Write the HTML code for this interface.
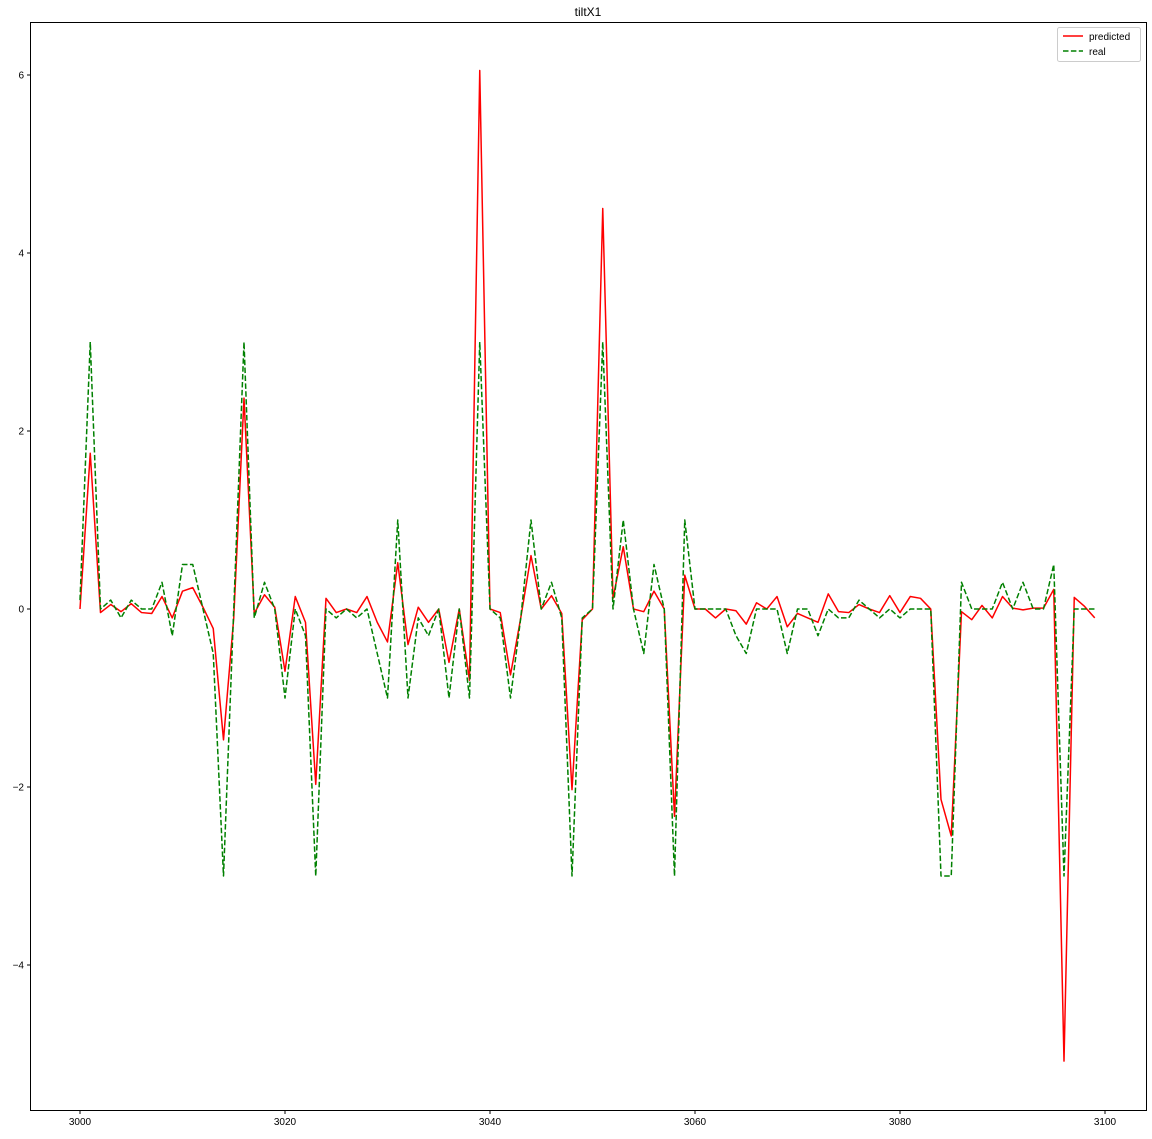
<!DOCTYPE html>
<html><head><meta charset="utf-8"><style>
html,body{margin:0;padding:0;background:#fff;}
svg text{font-family:"Liberation Sans","DejaVu Sans",sans-serif;font-size:10px;fill:#000;}
</style></head><body>
<svg id="chart" width="1152" height="1134" xmlns="http://www.w3.org/2000/svg">
<text x="588" y="16" text-anchor="middle" style="font-size:12px">tiltX1</text>
<rect x="30.5" y="22.5" width="1116" height="1088" fill="none" stroke="#000" stroke-width="1"/>
<g id="ticks"></g>
<g id="series"></g>
<g>
<rect x="1057.5" y="27.5" width="83" height="34" rx="2" fill="#fff" stroke="#ccc"/>
<line x1="1063" y1="36" x2="1083" y2="36" stroke="red" stroke-width="1.5"/>
<text x="1089" y="40">predicted</text>
<line x1="1063" y1="51" x2="1083" y2="51" stroke="green" stroke-width="1.5" stroke-dasharray="5.5,2.4"/>
<text x="1089" y="55">real</text>
</g>
</svg>
<script>
const xStart = 3000;
const predicted = [0,1.75,-0.04,0.05,-0.03,0.06,-0.04,-0.05,0.14,-0.1,0.2,0.24,0.02,-0.22,-1.47,-0.1,2.37,-0.05,0.16,0.02,-0.7,0.14,-0.15,-1.97,0.12,-0.04,0,-0.04,0.14,-0.15,-0.37,0.52,-0.4,0.02,-0.15,0,-0.6,0,-0.8,6.05,0,-0.04,-0.74,-0.1,0.6,0,0.15,-0.05,-2.03,-0.12,0,4.5,0.12,0.7,0,-0.03,0.2,0,-2.33,0.38,0,0,-0.1,0,-0.02,-0.17,0.07,0,0.14,-0.2,-0.05,-0.1,-0.15,0.17,-0.03,-0.04,0.05,0,-0.04,0.15,-0.04,0.14,0.12,0,-2.14,-2.55,-0.03,-0.12,0.04,-0.1,0.14,0.01,-0.01,0.01,0.01,0.22,-5.08,0.13,0.03,-0.1];
const real = [0.1,3,0,0.1,-0.1,0.1,0,0,0.3,-0.3,0.5,0.5,0,-0.5,-3,0,3,-0.1,0.3,0,-1,0,-0.3,-3,0,-0.1,0,-0.1,0,-0.5,-1,1,-1,-0.1,-0.3,0,-1,0,-1,3,0,-0.1,-1,-0.1,1,0,0.3,-0.1,-3,-0.1,0,3,0,1,0,-0.5,0.5,0,-3,1,0,0,0,0,-0.3,-0.5,0,0,0,-0.5,0,0,-0.3,0,-0.1,-0.1,0.1,0,-0.1,0,-0.1,0,0,0,-3,-3,0.3,0,0,0,0.3,0,0.3,0,0,0.5,-3,0,0,0];
const xTicks = [3000,3020,3040,3060,3080,3100];
const yTicks = [-4,-2,0,2,4,6];
const yTickLabels = ["\u22124","\u22122","0","2","4","6"];

const xScale = v => 80 + (v - 3000) * 10.25;
const yScale = v => 609 - v * 89;
const NS = "http://www.w3.org/2000/svg";
const ticks = document.getElementById('ticks');
const series = document.getElementById('series');

xTicks.forEach(t => {
  const x = xScale(t);
  const l = document.createElementNS(NS,'line');
  l.setAttribute('x1',x);l.setAttribute('x2',x);l.setAttribute('y1',1110.5);l.setAttribute('y2',1114);
  l.setAttribute('stroke','#000');
  
  
  ticks.appendChild(l);
  const tx = document.createElementNS(NS,'text');
  tx.setAttribute('x',x);tx.setAttribute('y',1125);tx.setAttribute('text-anchor','middle');
  tx.textContent = t;
  
  
  ticks.appendChild(tx);
});
yTicks.forEach((t,i) => {
  const y = yScale(t);
  const l = document.createElementNS(NS,'line');
  l.setAttribute('x1',27);l.setAttribute('x2',30.5);l.setAttribute('y1',y);l.setAttribute('y2',y);
  l.setAttribute('stroke','#000');
  
  
  ticks.appendChild(l);
  const tx = document.createElementNS(NS,'text');
  tx.setAttribute('x',24);tx.setAttribute('y',y+3.5);tx.setAttribute('text-anchor','end');
  tx.textContent = yTickLabels[i];
  
  
  ticks.appendChild(tx);
});
function drawLine(data, color, dash, name){
  const p = document.createElementNS(NS,'polyline');
  p.setAttribute('points', data.map((v,i)=>xScale(xStart+i)+','+yScale(v)).join(' '));
  p.setAttribute('fill','none');p.setAttribute('stroke',color);p.setAttribute('stroke-width','1.5');
  p.setAttribute('stroke-linejoin','round');
  if(dash) p.setAttribute('stroke-dasharray',dash);
  
  
  series.appendChild(p);
}
drawLine(predicted,'red',null,'predicted-line');
drawLine(real,'green','5.5,2.4','real-line');
</script>
</body></html>
